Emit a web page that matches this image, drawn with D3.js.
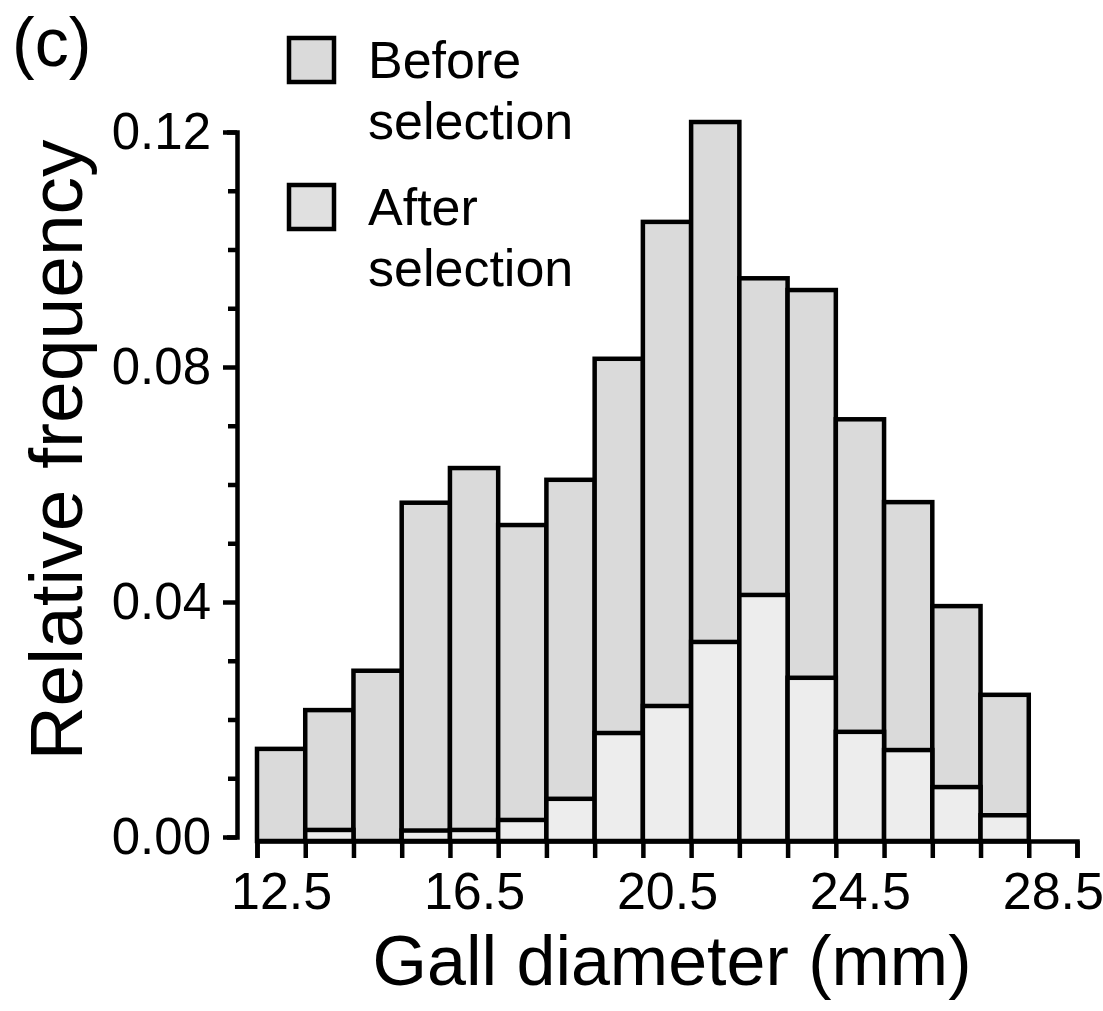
<!DOCTYPE html>
<html>
<head>
<meta charset="utf-8">
<script src="https://cdn.jsdelivr.net/npm/d3@7"></script>
<style>
  body { margin: 0; background: #fff; }
  svg { display: block; font-family: "Liberation Sans", Arial, Helvetica, sans-serif; }
</style>
</head>
<body>
<svg width="1103" height="1011"></svg>
<script>
"use strict";

// bin lower edges (mm), each bin is 1 mm wide
const binLow = [12, 13, 14, 15, 16, 17, 18, 19, 20, 21, 22, 23, 24, 25, 26, 27];
// relative frequency before / after selection
const beforeSel = [0.0150, 0.0216, 0.0283, 0.0569, 0.0628, 0.0531, 0.0608, 0.0814,
                   0.1047, 0.1217, 0.0951, 0.0931, 0.0711, 0.0570, 0.0393, 0.0242];
const afterSel = [0, 0.0012, 0, 0.0011, 0.0012, 0.0029, 0.0065, 0.0177,
                  0.0223, 0.0332, 0.0412, 0.0271, 0.0179, 0.0148, 0.0085, 0.0037];
const xTickLabels = [12.5, 16.5, 20.5, 24.5, 28.5];
const yMajorTicks = [0, 0.04, 0.08, 0.12];
const yMinorTicks = [0.01, 0.02, 0.03, 0.05, 0.06, 0.07, 0.09, 0.10, 0.11];
const legendItems = [
  { lines: ["Before", "selection"], fill: "#dadada" },
  { lines: ["After", "selection"], fill: "#e0e0e0" }
];

const svg = d3.select("svg");
const x = d3.scaleLinear().domain([12, 29]).range([257, 1077]);
const y = d3.scaleLinear().domain([0, 0.12]).range([837, 132]);
const axisX = 237;      // y axis position
const baseY = 841;      // x axis position
const lw = 4.5;

const bins = binLow.map((lo, i) => ({ lo, before: beforeSel[i], after: afterSel[i] }));

// before selection bars (full height)
svg.append("g")
  .selectAll("rect")
  .data(bins)
  .join("rect")
  .attr("x", (d) => x(d.lo))
  .attr("width", (d) => x(d.lo + 1) - x(d.lo))
  .attr("y", (d) => y(d.before))
  .attr("height", (d) => baseY - y(d.before))
  .attr("fill", "#dadada")
  .attr("stroke", "#000")
  .attr("stroke-width", lw);

// after selection bars, drawn on top from zero
svg.append("g")
  .selectAll("rect")
  .data(bins.filter((d) => d.after > 0))
  .join("rect")
  .attr("x", (d) => x(d.lo))
  .attr("width", (d) => x(d.lo + 1) - x(d.lo))
  .attr("y", (d) => y(d.after))
  .attr("height", (d) => baseY - y(d.after))
  .attr("fill", "#ededed")
  .attr("stroke", "#000")
  .attr("stroke-width", lw);

// x axis: ticks at every bin edge, labels at bin centres
const xEdges = d3.range(12, 30);
const gx = svg.append("g").attr("transform", `translate(0,${baseY})`);
gx.call(d3.axisBottom(x).tickValues(xEdges).tickSize(17).tickSizeOuter(17).tickFormat(""));
gx.selectAll("path, line").attr("stroke", "#000").attr("stroke-width", lw);

const gxl = svg.append("g").attr("transform", `translate(0,${baseY})`);
gxl.call(d3.axisBottom(x).tickValues(xTickLabels).tickSize(0).tickPadding(68).tickFormat(d3.format(".1f")));
gxl.select(".domain").remove();
gxl.selectAll("text")
  .attr("font-size", 52)
  .attr("font-family", "Liberation Sans, Arial, sans-serif")
  .attr("fill", "#000")
  .attr("dy", 0);

// y axis
const gy = svg.append("g").attr("transform", `translate(${axisX},0)`);
gy.call(d3.axisLeft(y).tickValues(yMajorTicks).tickSize(14).tickSizeOuter(10).tickPadding(12)
  .tickFormat(d3.format(".2f")));
gy.selectAll("path, line").attr("stroke", "#000").attr("stroke-width", lw);
gy.selectAll("text")
  .attr("font-size", 51)
  .attr("font-family", "Liberation Sans, Arial, sans-serif")
  .attr("fill", "#000");

const gym = svg.append("g").attr("transform", `translate(${axisX},0)`);
gym.call(d3.axisLeft(y).tickValues(yMinorTicks).tickSize(9).tickFormat(""));
gym.select(".domain").remove();
gym.selectAll("line").attr("stroke", "#000").attr("stroke-width", lw);

// axis titles
svg.append("text")
  .attr("x", 672)
  .attr("y", 985)
  .attr("text-anchor", "middle")
  .attr("font-size", 70)
  .text("Gall diameter (mm)");

svg.append("text")
  .attr("transform", "translate(82,450) rotate(-90)")
  .attr("text-anchor", "middle")
  .attr("font-size", 75)
  .text("Relative frequency");

// panel label
svg.append("text")
  .attr("x", 12)
  .attr("y", 66)
  .attr("font-size", 68)
  .text("(c)");

// legend
const legend = svg.append("g")
  .selectAll("g")
  .data(legendItems)
  .join("g")
  .attr("transform", (d, i) => `translate(289,${38 + i * 147})`);

legend.append("rect")
  .attr("width", 45)
  .attr("height", 44)
  .attr("fill", (d) => d.fill)
  .attr("stroke", "#000")
  .attr("stroke-width", lw);

legend.append("text")
  .attr("font-size", 52)
  .selectAll("tspan")
  .data((d) => d.lines)
  .join("tspan")
  .attr("x", 79)
  .attr("y", (d, i) => 40 + i * 61)
  .text((d) => d);
</script>
</body>
</html>
